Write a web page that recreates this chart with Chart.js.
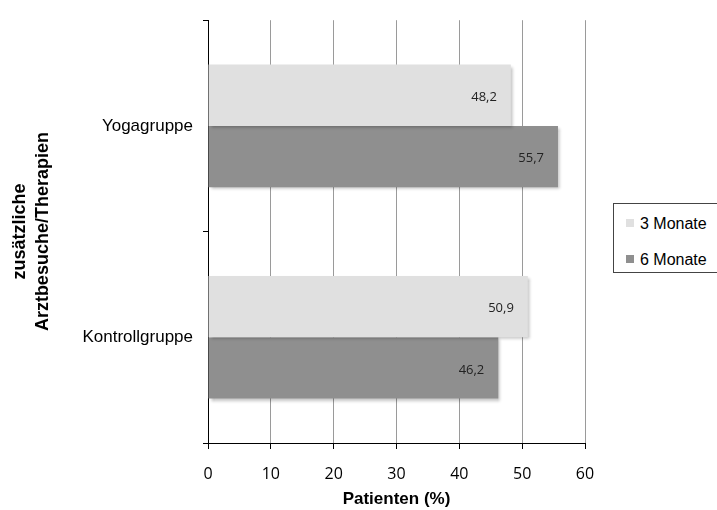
<!DOCTYPE html>
<html>
<head>
<meta charset="utf-8">
<script src="https://cdn.jsdelivr.net/npm/chart.js@4.4.1/dist/chart.umd.min.js"></script>
<style>
  html, body { margin: 0; padding: 0; background: #fff; }
  #wrap { position: relative; width: 717px; height: 510px; }
  #legende {
    position: absolute; left: 613px; top: 203px; width: 110px; height: 70px;
    border: 1px solid #444; background: #fff; box-sizing: border-box;
    font-family: "Liberation Sans", Arial, sans-serif; font-size: 16px; color: #000;
  }
  #legende div { position: absolute; left: 12px; height: 18px; line-height: 18px; }
  #legende span { display: inline-block; width: 8px; height: 8px; margin-right: 6px; vertical-align: 2px; }
</style>
</head>
<body>
<div id="wrap">
  <canvas id="grafico" width="717" height="510"></canvas>
  <div id="legende"></div>
</div>
<script>
// Daten
const gruppen = ['Yogagruppe', 'Kontrollgruppe'];
const serienNamen = ['3 Monate', '6 Monate'];
const werte3Monate = [48.2, 50.9];
const werte6Monate = [55.7, 46.2];
const serienFarben = ['#e0e0e0', '#8f8f8f'];
const xTicks = [0, 10, 20, 30, 40, 50, 60];

// Legende (HTML)
const legende = document.getElementById('legende');
serienNamen.forEach(function (name, i) {
    const d = document.createElement('div');
    d.style.top = (i === 0 ? 11 : 47) + 'px';
    d.innerHTML = '<span style="background:' + serienFarben[i] + '"></span>' + name;
    legende.appendChild(d);
});

const schatten = {
    id: 'schatten',
    beforeDatasetsDraw(chart) {
        const ctx = chart.ctx;
        ctx.save();
        ctx.shadowColor = 'rgba(0,0,0,0.25)';
        ctx.shadowBlur = 3;
        ctx.shadowOffsetX = 2;
        ctx.shadowOffsetY = 2;
    },
    afterDatasetsDraw(chart) {
        chart.ctx.restore();
        // Werte-Beschriftung
        const ctx = chart.ctx;
        ctx.save();
        ctx.font = '13px "Open Sans", sans-serif';
        ctx.fillStyle = '#222';
        ctx.textAlign = 'right';
        ctx.textBaseline = 'middle';
        chart.data.datasets.forEach(function (ds, i) {
            chart.getDatasetMeta(i).data.forEach(function (bar, j) {
                const txt = ds.data[j].toFixed(1).replace('.', ',');
                ctx.fillText(txt, bar.x - 14, bar.y + 2);
            });
        });
        ctx.restore();
    }
};

new Chart(document.getElementById('grafico'), {
    type: 'bar',
    data: {
        labels: gruppen,
        datasets: [
            { label: serienNamen[0], data: werte3Monate, backgroundColor: serienFarben[0] },
            { label: serienNamen[1], data: werte6Monate, backgroundColor: serienFarben[1] }
        ]
    },
    options: {
        indexAxis: 'y',
        responsive: false,
        animation: false,
        layout: { padding: { top: 16, right: 132, left: 0, bottom: 0 } },
        categoryPercentage: 0.58,
        barPercentage: 1,
        plugins: {
            legend: { display: false },
            tooltip: { enabled: false }
        },
        scales: {
            x: {
                min: 0,
                max: 60,
                afterBuildTicks: function (axis) {
                    axis.ticks = xTicks.map(v => ({ value: v }));
                },
                afterFit: function (axis) { axis.height = 67; },
                grid: { color: '#9a9a9a', lineWidth: 1, tickLength: 6, tickColor: '#000' },
                border: { color: '#000', width: 1 },
                ticks: {
                    color: '#000',
                    padding: 16,
                    font: { family: '"Open Sans", sans-serif', size: 16 }
                },
                title: {
                    display: true,
                    text: 'Patienten (%)',
                    color: '#000',
                    padding: { top: 0, bottom: 0 },
                    font: { family: '"Liberation Sans", Arial, sans-serif', size: 17, weight: 'bold' }
                }
            },
            y: {
                afterFit: function (axis) { axis.width = 208; },
                grid: { offset: true, drawOnChartArea: false, tickLength: 5, tickColor: '#000' },
                border: { color: '#000', width: 1 },
                ticks: {
                    color: '#000',
                    padding: 10,
                    font: { family: '"Liberation Sans", Arial, sans-serif', size: 17 }
                },
                title: {
                    display: true,
                    text: ['zusätzliche', 'Arztbesuche/Therapien'],
                    color: '#000',
                    padding: { top: 9, bottom: 0 },
                    font: { family: '"Liberation Sans", Arial, sans-serif', size: 18, weight: 'bold', lineHeight: 1.25 }
                }
            }
        }
    },
    plugins: [schatten]
});
</script>
</body>
</html>
